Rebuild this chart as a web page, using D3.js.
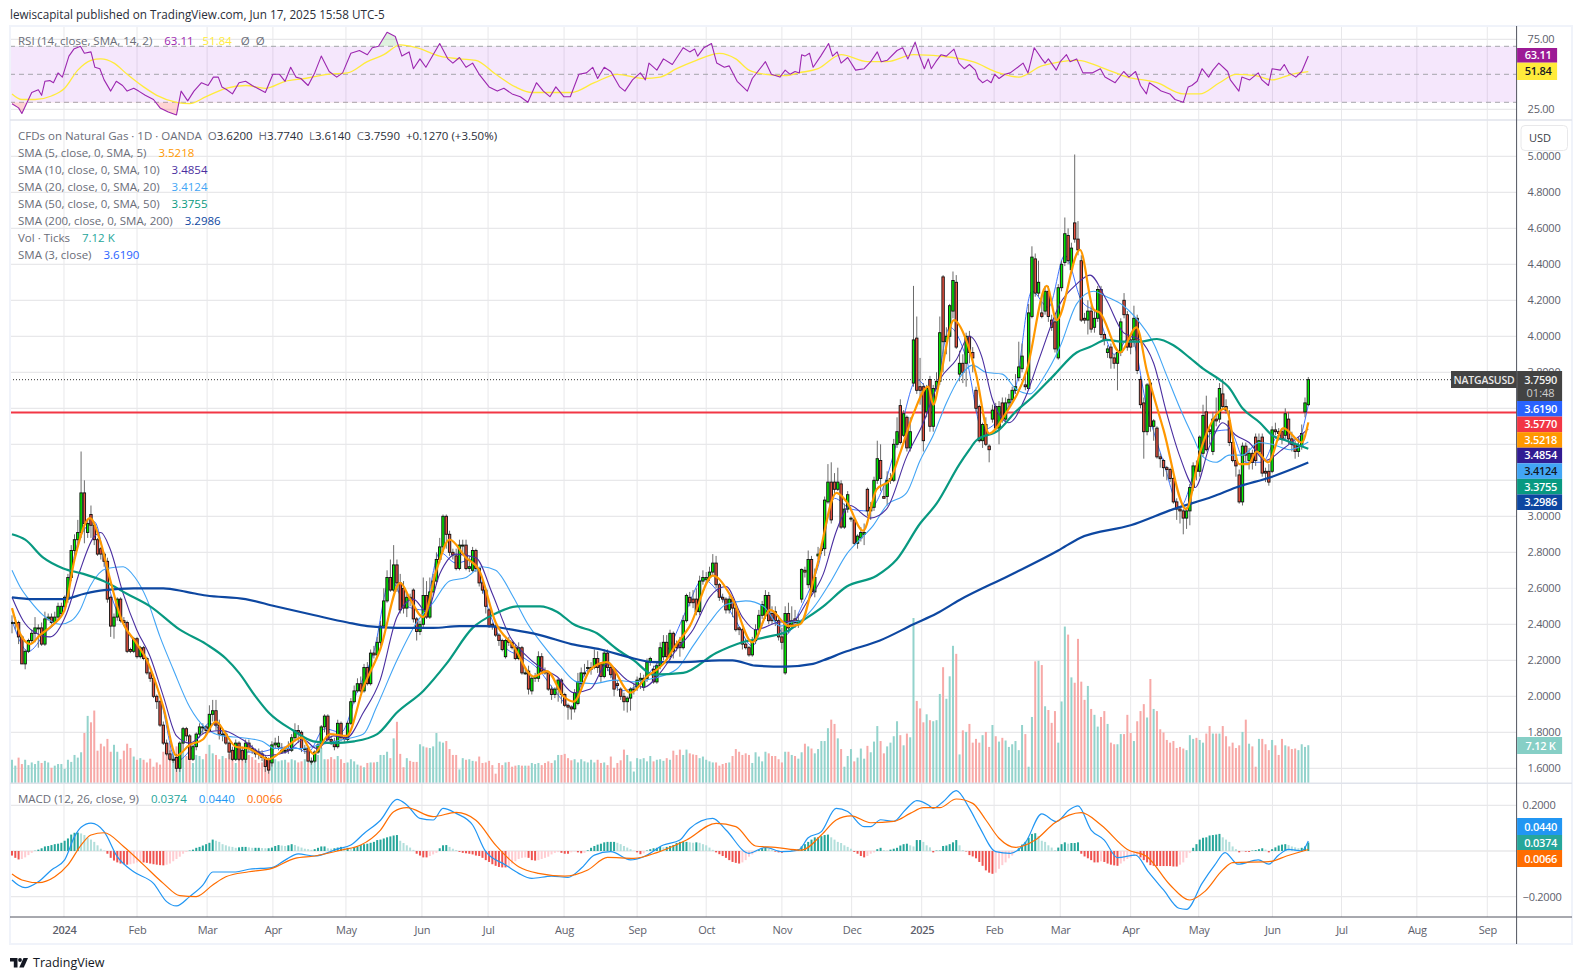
<!DOCTYPE html>
<html>
  <head>
    <title>NATGASUSD</title>
    <meta charset="utf-8" />
    <script src="https://d3js.org/d3.v7.min.js"></script>
    <style>
      html, body { margin: 0; padding: 0; background: #fff; }
      svg { display: block; }
      text { font-family: "Open Sans", "DejaVu Sans", sans-serif; }
    </style>
  </head>
  <body>
    <script>
      // daily candles, one row of ten bars per line
      const opens = [
        2.41,2.41,2.41,2.33,2.18,2.25,2.31,2.35,2.38,2.38,
        2.29,2.43,2.44,2.41,2.44,2.46,2.50,2.54,2.66,2.81,
        2.87,2.91,3.13,2.91,3.01,2.95,2.87,2.82,2.79,2.75,
        2.55,2.39,2.44,2.54,2.42,2.41,2.26,2.25,2.32,2.22,
        2.27,2.21,2.13,2.10,2.00,1.97,1.84,1.74,1.68,1.65,
        1.66,1.60,1.74,1.82,1.78,1.65,1.72,1.79,1.83,1.83,
        1.81,1.90,1.92,1.84,1.79,1.79,1.74,1.70,1.65,1.74,
        1.70,1.65,1.74,1.71,1.70,1.69,1.68,1.66,1.65,1.63,
        1.73,1.72,1.69,1.70,1.71,1.70,1.77,1.81,1.80,1.71,
        1.71,1.64,1.64,1.69,1.73,1.83,1.89,1.76,1.75,1.72,
        1.85,1.77,1.76,1.85,1.97,2.03,2.07,2.03,2.16,2.07,
        2.24,2.23,2.30,2.39,2.53,2.66,2.59,2.73,2.63,2.60,
        2.49,2.55,2.59,2.43,2.36,2.40,2.56,2.44,2.58,2.64,
        2.76,2.83,3.00,2.90,2.80,2.78,2.71,2.84,2.84,2.71,
        2.70,2.81,2.71,2.63,2.59,2.48,2.40,2.39,2.34,2.31,
        2.22,2.31,2.30,2.27,2.21,2.27,2.13,2.14,2.03,2.10,
        2.10,2.22,2.14,2.13,2.04,2.01,2.04,2.09,2.01,1.95,
        1.94,1.93,1.96,2.07,2.13,2.16,2.15,2.16,2.21,2.18,
        2.11,2.24,2.16,2.15,2.07,2.04,2.00,1.97,1.99,2.04,
        2.05,2.09,2.05,2.10,2.19,2.15,2.08,2.17,2.22,2.30,
        2.22,2.35,2.29,2.30,2.27,2.42,2.55,2.54,2.54,2.47,
        2.64,2.65,2.66,2.69,2.74,2.62,2.55,2.54,2.48,2.54,
        2.49,2.38,2.37,2.29,2.27,2.23,2.31,2.37,2.45,2.45,
        2.56,2.46,2.47,2.42,2.33,2.13,2.46,2.40,2.43,2.40,
        2.54,2.70,2.62,2.76,2.58,2.78,2.81,2.82,3.08,3.19,
        3.19,3.15,3.18,2.94,3.04,2.99,2.98,2.85,2.88,2.90,
        3.15,3.03,3.05,3.20,3.31,3.11,3.11,3.20,3.20,3.40,
        3.615,3.45,3.55,3.38,3.74,3.99,3.72,3.72,3.58,3.76,
        3.50,3.71,3.75,4.33,3.97,4.00,4.14,4.30,3.79,3.85,
        3.85,4.00,3.91,3.70,3.61,3.42,3.51,3.39,3.54,3.61,
        3.49,3.63,3.54,3.63,3.65,3.70,3.77,3.82,3.73,3.71,
        4.11,4.43,4.24,4.13,4.14,4.25,4.09,4.08,3.88,4.27,
        4.41,4.56,4.37,4.63,4.54,4.42,4.10,4.09,4.14,4.05,
        4.10,4.26,4.01,3.91,3.94,3.88,3.85,3.91,4.20,4.12,
        3.98,3.98,4.10,3.76,3.63,3.47,3.74,3.50,3.49,3.33,
        3.31,3.27,3.26,3.21,3.08,3.04,3.03,2.99,3.03,3.16,
        3.28,3.25,3.35,3.58,3.48,3.36,3.54,3.54,3.68,3.61,
        3.53,3.41,3.31,3.23,3.08,3.39,3.31,3.35,3.44,3.36,
        3.44,3.25,3.25,3.25,3.48,3.47,3.47,3.45,3.54,3.43,
        3.40,3.36,3.39,3.58,3.62
      ];
      const closes = [
        2.41,2.41,2.33,2.18,2.25,2.31,2.35,2.38,2.38,2.29,
        2.43,2.44,2.41,2.44,2.50,2.50,2.55,2.66,2.81,2.87,
        2.91,3.13,2.96,2.96,2.95,2.87,2.79,2.79,2.75,2.54,
        2.39,2.44,2.54,2.42,2.41,2.25,2.25,2.32,2.22,2.27,
        2.21,2.13,2.10,2.00,1.97,1.84,1.74,1.68,1.65,1.65,
        1.60,1.74,1.82,1.78,1.65,1.72,1.79,1.83,1.83,1.81,
        1.90,1.92,1.84,1.79,1.79,1.74,1.69,1.65,1.74,1.65,
        1.65,1.74,1.71,1.70,1.68,1.68,1.66,1.61,1.59,1.73,
        1.74,1.74,1.70,1.70,1.70,1.77,1.81,1.80,1.71,1.71,
        1.64,1.64,1.69,1.73,1.83,1.89,1.76,1.75,1.72,1.85,
        1.77,1.76,1.85,1.97,2.03,2.07,2.03,2.16,2.07,2.24,
        2.23,2.30,2.39,2.53,2.66,2.59,2.73,2.63,2.48,2.49,
        2.55,2.54,2.43,2.36,2.40,2.56,2.44,2.58,2.64,2.76,
        2.83,3.00,2.90,2.80,2.785,2.71,2.84,2.84,2.71,2.72,
        2.81,2.71,2.63,2.59,2.50,2.39,2.39,2.34,2.31,2.26,
        2.31,2.30,2.27,2.21,2.27,2.13,2.13,2.04,2.10,2.11,
        2.22,2.14,2.13,2.04,2.01,2.04,2.09,2.01,1.95,1.94,
        1.93,2.02,2.08,2.13,2.13,2.16,2.16,2.21,2.16,2.11,
        2.24,2.16,2.12,2.04,2.06,2.00,1.97,1.99,2.04,2.04,
        2.09,2.10,2.10,2.19,2.21,2.08,2.17,2.27,2.30,2.22,
        2.35,2.25,2.27,2.27,2.42,2.56,2.52,2.52,2.47,2.64,
        2.66,2.66,2.69,2.74,2.62,2.55,2.54,2.48,2.54,2.49,
        2.37,2.37,2.29,2.27,2.23,2.31,2.37,2.45,2.51,2.56,
        2.42,2.42,2.42,2.33,2.30,2.46,2.38,2.42,2.41,2.42,
        2.705,2.69,2.76,2.58,2.66,2.79,2.82,3.09,3.19,2.98,
        3.15,3.19,2.94,3.04,3.12,2.99,2.85,2.89,2.91,2.91,
        3.03,3.05,3.20,3.32,3.21,3.10,3.20,3.21,3.40,3.47,
        3.41,3.57,3.38,3.47,3.98,3.70,3.70,3.42,3.71,3.50,
        3.71,3.75,4.02,3.97,4.00,4.17,4.31,3.94,3.85,3.80,
        4.00,3.91,3.88,3.60,3.42,3.51,3.40,3.37,3.59,3.49,
        3.61,3.54,3.63,3.65,3.70,3.72,3.83,3.89,3.72,4.13,
        4.44,4.24,4.30,4.11,4.25,4.11,4.05,3.93,4.27,4.40,
        4.57,4.42,4.49,4.54,4.48,4.09,4.09,4.14,4.04,4.10,
        4.26,4.01,3.98,3.93,3.88,3.85,3.91,4.08,4.12,3.94,
        3.94,4.10,3.81,3.62,3.47,3.73,3.50,3.53,3.33,3.32,
        3.27,3.26,3.21,3.08,3.04,3.03,2.99,3.03,3.16,3.28,
        3.25,3.44,3.56,3.37,3.47,3.54,3.53,3.71,3.61,3.59,
        3.41,3.31,3.28,3.08,3.39,3.34,3.35,3.30,3.31,3.42,
        3.24,3.24,3.19,3.48,3.47,3.46,3.43,3.57,3.43,3.40,
        3.36,3.39,3.46,3.63,3.759
      ];
      const highs = [
        2.45,2.44,2.42,2.34,2.26,2.32,2.37,2.44,2.40,2.41,
        2.47,2.46,2.46,2.47,2.52,2.52,2.56,2.68,2.84,2.90,
        2.98,3.36,3.20,2.98,3.06,2.96,2.88,2.83,2.80,2.77,
        2.56,2.46,2.55,2.55,2.44,2.42,2.27,2.33,2.33,2.28,
        2.28,2.22,2.14,2.11,2.01,1.98,1.86,1.76,1.70,1.67,
        1.68,1.75,1.83,1.83,1.79,1.73,1.80,1.85,1.85,1.84,
        1.95,1.98,1.98,1.87,1.81,1.81,1.75,1.72,1.76,1.75,
        1.72,1.76,1.76,1.73,1.71,1.71,1.70,1.67,1.66,1.75,
        1.77,1.78,1.74,1.72,1.75,1.79,1.85,1.84,1.81,1.73,
        1.72,1.66,1.70,1.75,1.84,1.90,1.90,1.78,1.77,1.87,
        1.86,1.78,1.86,1.99,2.06,2.10,2.11,2.18,2.19,2.26,
        2.28,2.33,2.42,2.60,2.70,2.76,2.84,2.76,2.68,2.64,
        2.57,2.57,2.60,2.44,2.42,2.66,2.64,2.66,2.68,2.80,
        2.88,3.01,3.01,2.92,2.82,2.82,2.87,2.87,2.87,2.78,
        2.83,2.82,2.72,2.64,2.60,2.49,2.41,2.40,2.35,2.32,
        2.32,2.33,2.31,2.29,2.30,2.28,2.16,2.17,2.12,2.13,
        2.25,2.24,2.16,2.14,2.06,2.05,2.10,2.10,2.02,1.96,
        1.95,2.04,2.13,2.16,2.18,2.20,2.19,2.26,2.25,2.19,
        2.26,2.26,2.18,2.16,2.09,2.05,2.02,2.00,2.05,2.07,
        2.11,2.13,2.12,2.21,2.22,2.17,2.19,2.30,2.34,2.34,
        2.37,2.36,2.31,2.33,2.45,2.57,2.58,2.59,2.60,2.67,
        2.70,2.69,2.72,2.79,2.78,2.63,2.57,2.55,2.56,2.55,
        2.50,2.39,2.38,2.32,2.28,2.33,2.40,2.48,2.53,2.59,
        2.58,2.50,2.50,2.45,2.38,2.50,2.52,2.50,2.48,2.46,
        2.71,2.72,2.81,2.78,2.71,2.83,2.85,3.11,3.29,3.30,
        3.24,3.27,3.20,3.07,3.14,3.00,2.99,2.90,2.94,2.96,
        3.16,3.08,3.22,3.42,3.40,3.18,3.25,3.24,3.43,3.55,
        3.65,3.59,3.56,3.55,4.28,4.11,3.88,3.74,3.73,3.78,
        3.73,3.80,4.11,4.34,4.05,4.18,4.36,4.34,3.92,3.90,
        4.02,4.03,3.94,3.72,3.62,3.52,3.55,3.40,3.62,3.63,
        3.64,3.66,3.66,3.68,3.72,3.79,3.97,3.96,3.78,4.18,
        4.50,4.46,4.42,4.22,4.28,4.28,4.12,4.12,4.29,4.42,
        4.66,4.60,4.52,5.01,4.64,4.45,4.13,4.20,4.17,4.14,
        4.28,4.28,4.02,3.95,3.96,3.90,3.93,4.10,4.24,4.14,
        4.00,4.17,4.12,3.78,3.66,3.74,3.76,3.54,3.50,3.35,
        3.32,3.28,3.27,3.22,3.10,3.05,3.04,3.05,3.18,3.30,
        3.31,3.45,3.62,3.67,3.49,3.58,3.66,3.74,3.76,3.65,
        3.59,3.42,3.33,3.26,3.41,3.41,3.38,3.37,3.46,3.46,
        3.46,3.27,3.29,3.50,3.52,3.49,3.49,3.60,3.58,3.47,
        3.42,3.44,3.51,3.66,3.774
      ];
      const lows = [
        2.35,2.37,2.29,2.18,2.15,2.24,2.29,2.30,2.27,2.28,
        2.28,2.42,2.40,2.40,2.43,2.44,2.47,2.52,2.64,2.78,
        2.83,2.88,2.85,2.88,2.88,2.84,2.78,2.76,2.72,2.52,
        2.33,2.32,2.42,2.41,2.39,2.24,2.24,2.24,2.21,2.21,
        2.20,2.12,2.08,1.99,1.93,1.83,1.73,1.67,1.64,1.63,
        1.58,1.58,1.70,1.75,1.65,1.64,1.70,1.77,1.79,1.78,
        1.80,1.86,1.81,1.76,1.75,1.73,1.65,1.64,1.64,1.64,
        1.64,1.63,1.69,1.68,1.66,1.65,1.64,1.58,1.57,1.61,
        1.71,1.70,1.68,1.68,1.68,1.69,1.75,1.74,1.69,1.68,
        1.63,1.62,1.63,1.68,1.71,1.80,1.75,1.73,1.70,1.71,
        1.75,1.74,1.75,1.84,1.96,2.02,2.02,2.02,2.06,2.06,
        2.21,2.22,2.28,2.38,2.52,2.58,2.58,2.58,2.46,2.46,
        2.44,2.50,2.41,2.31,2.34,2.38,2.43,2.43,2.56,2.62,
        2.74,2.80,2.82,2.78,2.76,2.70,2.70,2.79,2.70,2.69,
        2.69,2.69,2.61,2.57,2.46,2.38,2.37,2.33,2.28,2.25,
        2.21,2.28,2.26,2.20,2.20,2.12,2.12,2.01,2.01,2.08,
        2.08,2.13,2.12,2.03,1.98,1.99,1.97,1.96,1.94,1.87,
        1.87,1.91,1.95,2.05,2.11,2.13,2.12,2.15,2.13,2.08,
        2.10,2.14,2.10,2.00,2.03,1.98,1.92,1.91,1.92,2.01,
        2.03,2.04,2.03,2.08,2.17,2.07,2.07,2.15,2.20,2.21,
        2.20,2.21,2.25,2.22,2.26,2.41,2.50,2.49,2.45,2.45,
        2.62,2.62,2.64,2.67,2.60,2.53,2.52,2.46,2.46,2.44,
        2.36,2.34,2.26,2.26,2.22,2.22,2.29,2.36,2.43,2.43,
        2.40,2.40,2.39,2.31,2.26,2.12,2.35,2.38,2.38,2.38,
        2.52,2.66,2.60,2.56,2.55,2.76,2.79,2.78,3.07,2.96,
        3.12,3.14,2.93,2.93,3.02,2.97,2.84,2.82,2.86,2.84,
        3.00,2.98,3.03,3.18,3.14,3.10,3.06,3.18,3.19,3.38,
        3.40,3.44,3.36,3.36,3.72,3.68,3.62,3.36,3.55,3.47,
        3.47,3.70,3.73,3.80,3.90,3.86,4.10,3.93,3.75,3.74,
        3.72,3.85,3.80,3.58,3.41,3.38,3.39,3.30,3.52,3.48,
        3.40,3.52,3.53,3.60,3.63,3.68,3.75,3.80,3.70,3.70,
        4.10,4.22,4.22,4.10,4.12,4.08,4.03,3.91,3.87,4.25,
        4.39,4.40,4.35,4.52,4.45,4.08,4.07,4.01,4.02,4.02,
        4.08,3.99,3.95,3.88,3.82,3.82,3.70,3.89,4.10,3.92,
        3.90,3.94,3.79,3.60,3.32,3.45,3.47,3.42,3.32,3.27,
        3.22,3.20,3.19,3.07,2.98,2.96,2.90,2.93,2.95,3.14,
        3.20,3.22,3.33,3.36,3.40,3.34,3.50,3.52,3.60,3.57,
        3.39,3.30,3.22,3.07,3.06,3.30,3.26,3.26,3.28,3.34,
        3.22,3.19,3.17,3.24,3.45,3.42,3.40,3.43,3.40,3.36,
        3.32,3.33,3.37,3.55,3.614
      ];

      // tick volume, thousands
      const volumes = [
        4.4,3.3,4.8,3.6,4.4,3.4,3.9,3.6,4.2,3.8,
        4.2,3.9,2.9,3.3,3.6,3.6,2.7,4.4,4.0,5.3,
        4.8,5.8,9.4,12.6,11.4,13.6,6.1,7.4,6.9,8.3,
        5.9,7.2,5.9,4.5,6.1,7.4,6.6,5.0,4.4,4.7,
        4.4,3.9,4.6,3.1,3.9,3.5,5.9,6.2,7.6,5.9,
        6.9,5.0,5.9,5.1,5.8,3.8,5.3,5.1,4.5,5.5,
        7.2,5.6,5.3,4.5,5.1,4.7,5.5,5.0,3.8,4.6,
        5.6,4.4,5.3,4.9,4.4,3.8,3.9,4.4,3.1,3.8,
        4.5,4.1,4.3,4.4,3.9,4.5,4.3,3.9,4.1,4.5,
        3.8,4.1,5.6,5.3,6.6,4.5,4.5,4.9,4.5,5.1,
        4.5,3.8,3.9,4.5,4.1,3.5,3.3,3.0,3.8,3.9,
        3.9,4.0,5.3,5.3,5.9,4.7,8.4,11.5,5.5,3.0,
        4.7,4.2,4.0,4.0,7.3,6.9,6.7,6.6,6.9,9.4,
        7.8,7.6,7.9,6.4,5.3,5.3,2.6,4.7,4.4,4.5,
        4.2,4.1,5.0,3.8,3.9,4.2,3.4,1.8,3.8,3.4,
        3.9,4.0,3.1,3.3,3.4,3.3,3.3,3.3,3.8,3.6,
        3.8,3.4,3.8,4.1,3.8,4.3,5.3,5.3,5.5,4.7,
        4.3,4.5,3.9,4.5,4.1,3.9,4.4,3.9,4.4,3.8,
        3.9,3.4,5.0,2.9,3.8,4.3,6.3,5.3,4.1,2.2,
        4.7,4.5,4.7,4.1,5.1,4.1,4.4,4.5,4.2,4.7,
        4.4,6.1,5.3,6.3,5.3,6.3,5.6,5.4,5.3,4.7,
        5.0,4.4,4.1,3.9,3.9,3.3,3.6,3.8,3.9,5.1,
        6.4,5.9,5.3,5.6,5.3,3.8,5.8,5.0,4.1,5.9,
        5.6,5.1,5.1,4.5,3.9,5.9,5.9,5.3,5.1,4.6,
        5.8,7.4,6.9,6.5,5.6,6.4,7.9,7.9,10.3,11.9,
        11.1,8.4,6.4,3.1,5.1,6.4,4.1,4.8,6.5,4.6,
        7.0,5.8,7.8,10.7,7.9,5.6,6.9,7.6,8.8,11.6,
        9.0,7.1,9.3,8.6,30.9,15.4,14.0,11.4,12.9,11.8,
        11.6,11.8,16.7,21.7,15.8,20.0,25.7,24.2,5.4,9.9,
        9.6,11.1,7.6,8.3,7.6,9.0,9.6,6.8,10.9,8.8,
        7.8,8.5,8.0,6.8,7.3,7.9,6.2,10.9,9.2,3.1,
        12.4,22.8,22.9,22.1,14.4,13.7,11.3,13.5,7.6,15.3,
        29.3,27.8,19.8,18.8,27.0,19.0,15.6,18.2,13.9,12.8,
        10.6,12.4,13.5,11.1,7.6,7.3,7.3,9.2,9.2,12.8,
        9.4,7.9,11.6,13.5,14.8,12.3,19.5,13.9,13.5,10.1,
        9.5,8.1,7.6,7.9,6.6,6.8,6.5,6.2,9.0,8.3,
        8.5,8.1,7.6,9.3,10.7,9.3,9.3,9.3,10.7,8.8,
        6.9,7.6,6.6,7.1,9.6,11.9,7.4,6.9,3.1,8.3,
        8.3,7.3,6.2,8.1,7.1,5.3,8.3,7.1,6.9,6.4,
        6.5,6.2,7.3,6.8,7.12
      ];

      // moving averages, read at the listed bars
      const ma200Bars = [0,6.5,15.6,22,28,37,46,53,59,71,80,92,102,108,117,128,136,144,152,160.5,170,179,189,195,204,215,219,226,235,243.5,246.6,253.7,263.8,274,281,288,303,318,324.6,340,353,365,372,383,394];
      const ma200 = [2.55,2.54,2.54,2.57,2.59,2.60,2.60,2.58,2.56,2.54,2.50,2.45,2.41,2.39,2.38,2.38,2.39,2.39,2.37,2.34,2.29,2.26,2.21,2.19,2.19,2.20,2.20,2.17,2.165,2.18,2.20,2.25,2.31,2.40,2.46,2.535,2.67,2.81,2.88,2.95,3.04,3.11,3.16,3.22,3.2986];
      const ma50Bars = [0,4,9.5,15.6,21.7,27.8,34.9,42,51,59,65,69,74,78,85.5,91.6,97.7,104,111,117,125,132,140,147,153.5,160.5,165.6,170.7,177.8,184,189,195,204,214,222,229.5,235.5,239.5,246.6,253.7,262.8,268.9,276,281,288,291,293,300,305,310,316.5,323.6,327.6,332.7,337.8,342.8,348,353,358,362,367,369.7,374,379.3,383,387.4,394];
      const ma50 = [2.90,2.87,2.77,2.71,2.68,2.64,2.57,2.50,2.37,2.29,2.21,2.13,2.00,1.91,1.81,1.75,1.74,1.75,1.79,1.91,2.03,2.18,2.38,2.46,2.50,2.50,2.47,2.40,2.35,2.26,2.20,2.12,2.13,2.24,2.30,2.33,2.36,2.41,2.50,2.61,2.67,2.76,2.96,3.07,3.29,3.37,3.42,3.48,3.58,3.66,3.78,3.91,3.94,3.98,3.97,3.97,3.985,3.95,3.88,3.82,3.76,3.72,3.60,3.52,3.45,3.42,3.3755];
      const ma20Bars = [0,2.4,5.5,9.5,14.6,18,20.7,23.7,28.8,33.8,37.4,41,45,49,54,59,64,70,76,80,87.5,93.6,100.7,106.8,110.8,117,123,128,133,138,143,147,152.4,156.5,161.6,166.6,171.7,176.8,183,189,195,202,207,212,217,223,228.4,233.5,236.4,239.5,243.5,248.6,253.7,257.7,261.8,265.8,271.9,276,280,284,288,292,296,301,305,309.4,313.5,318.5,323.6,328.7,332.7,337.8,343,347,351,355,359,362,366,370,374,379,383,388.4,394];
      const ma20 = [2.70,2.61,2.53,2.45,2.40,2.42,2.48,2.61,2.71,2.72,2.66,2.54,2.33,2.15,1.94,1.82,1.78,1.77,1.75,1.71,1.71,1.73,1.76,1.79,1.94,2.20,2.41,2.52,2.64,2.66,2.72,2.70,2.55,2.41,2.28,2.17,2.08,2.07,2.09,2.08,2.10,2.15,2.28,2.41,2.51,2.53,2.50,2.39,2.41,2.42,2.49,2.63,2.79,2.87,2.95,3.06,3.13,3.31,3.45,3.63,3.77,3.84,3.80,3.79,3.71,3.68,3.77,3.94,4.18,4.25,4.22,4.17,4.07,3.96,3.78,3.60,3.44,3.33,3.30,3.34,3.34,3.41,3.40,3.37,3.4124];
      const ma10Bars = [0,3.4,6.5,11.6,16.6,20.7,24.7,27,29.8,33.8,37.9,42,46,50,54,59,64,70,77.4,83.5,88.5,92.6,97.7,101.7,106.8,111.9,117,122,126,130,135,141,146,151.4,155.5,160.6,165.6,170.7,175.8,180.8,187,192,197,202,207,212,217,222,226,232.5,237.6,241.5,246.6,250.6,254.7,260.8,265.8,271.9,277,282,287,291,294.7,298,303,308,312.5,318.5,323.6,327.6,332.7,337.8,342.8,347,351,355,359.6,364,368,372,376,381,386,394];
      const ma10 = [2.55,2.42,2.36,2.33,2.46,2.70,2.88,2.91,2.82,2.57,2.37,2.22,2.00,1.78,1.74,1.80,1.81,1.76,1.67,1.69,1.76,1.71,1.78,1.77,1.91,2.09,2.44,2.54,2.47,2.68,2.79,2.77,2.57,2.33,2.24,2.16,2.11,2.02,2.04,2.18,2.09,2.05,2.13,2.26,2.37,2.55,2.61,2.44,2.37,2.41,2.42,2.52,2.68,2.92,3.06,2.99,3.04,3.33,3.52,3.76,3.87,4.00,3.89,3.65,3.52,3.66,3.89,4.18,4.29,4.34,4.20,4.02,3.98,3.85,3.57,3.33,3.16,3.39,3.52,3.45,3.41,3.31,3.37,3.4854];
      const ma5Bars = [0,2.4,5.5,8.5,12.6,16,19,23.7,26.7,29.8,33,38,41,46,50,54,58,62,65,68,72,78,83.5,88,91.6,96.7,101.7,106.8,111.9,118,121,125,129,133,138,142,147,152.4,158.5,162.6,167.6,170.7,175.8,180.8,188,193,198,202,206,213,219,225,230.5,234.5,236,239.5,244.5,250.6,253.7,258.7,262.8,266.8,269.9,274,278.5,280,282,286.3,290,293,297,302,308.4,314.5,317.5,324.6,328.7,330.7,336.8,341.8,344.9,350,356.9,361,368.9,373,375.8,378.3,381.8,386.4,392,394];
      const ma5 = [2.49,2.35,2.29,2.34,2.40,2.48,2.76,2.99,2.87,2.65,2.44,2.29,2.20,1.94,1.67,1.73,1.76,1.86,1.79,1.72,1.71,1.65,1.72,1.77,1.68,1.79,1.78,2.05,2.26,2.63,2.54,2.44,2.70,2.87,2.77,2.70,2.41,2.28,2.11,2.14,2.00,1.97,2.15,2.19,2.02,2.11,2.18,2.29,2.39,2.67,2.54,2.30,2.48,2.41,2.39,2.40,2.71,3.13,3.08,2.92,3.15,3.20,3.35,3.57,3.72,3.62,3.76,4.09,3.98,3.79,3.46,3.57,3.81,4.28,4.09,4.48,4.15,4.13,3.91,4.05,3.81,3.48,3.04,3.35,3.60,3.29,3.29,3.36,3.30,3.49,3.41,3.5218];
      const ma3Bars = [0,5,10,15,20,25,30,35,40,45,50,55,60,65,70,75,80,85,90,95,100,105,110,115,120,125,130,135,140,145,150,155,160,165,170,175,180,185,190,195,200,205,210,215,220,225,230,235,240,245,250,255,260,265,270,275,280,285,290,295,300,305,310,315,320,325,330,335,340,345,350,355,360,365,370,375,380,385,390,394];
      const ma3 = [2.42,2.25,2.35,2.46,2.85,2.97,2.57,2.36,2.24,2.00,1.64,1.72,1.85,1.78,1.69,1.69,1.71,1.72,1.69,1.82,1.80,2.03,2.25,2.65,2.50,2.48,2.80,2.74,2.76,2.47,2.27,2.22,2.15,2.03,1.94,2.15,2.17,2.03,2.06,2.16,2.28,2.48,2.65,2.57,2.42,2.28,2.46,2.34,2.50,2.72,3.10,3.04,3.03,3.17,3.48,3.76,3.68,4.05,3.88,3.48,3.54,3.71,4.25,4.16,4.45,4.20,4.12,3.90,4.00,3.60,3.30,3.05,3.28,3.47,3.48,3.30,3.30,3.45,3.39,3.619];

      // RSI pane
      const rsiBars = [0,2,3,5,6,8,9,10,11.5,12.6,14,15.3,17.3,18.8,20.8,22,24,25.2,26.7,28,30,31.7,33.6,35,37,38.5,40.5,43,45,47.5,50,51.4,53.4,55.3,57.6,59.6,61.2,62.7,63.8,65.3,67,69,71,73,74.6,77,79.3,81.3,83,84.7,86.3,87.8,90,92,94,96.4,98.7,100.5,103,105.6,108,109.5,111.4,114,116.5,118.5,120.7,122,124,125.8,128,130,132.5,134,136,138,140,142,145,147.5,149.5,152,154.5,156.8,159.4,161.5,163.5,165.3,167.7,169.7,172.3,174.6,176.5,178,180,182,184.7,186.3,188.6,191,192.5,193.6,196,198,200.7,204,206,207.5,208.4,210.3,212.6,214.2,216.5,218,220.4,223.5,225,229,230.8,233.4,235,236.5,238,239.3,240,241,242.4,243.5,245.8,248.2,249.4,250.8,252,254,256.4,259,261,263,264.2,266,269,270.7,272.3,274.5,275.7,277.3,278.5,279.4,280.8,282.4,284,286.3,287.8,289.4,291,292.8,293.7,295,296.4,297.6,298.7,300,301.8,303.4,305.7,307.3,308.8,310.7,313,314,315,317.4,318.6,320.5,321.6,323.6,325.5,328.3,330.8,332.2,335.3,337.9,339.5,341.5,343,344.8,345.7,348.2,349.3,351.9,353.5,356,357.5,358.6,360.2,361.7,363.7,365,366.8,369.5,370.3,372.9,373.8,376.2,378.8,379.9,381.9,383,385.5,386.7,388.1,390.2,392,394];
      const rsi = [29,26,22,32,37,39,35,45,45.5,44,51,48,63,68,70,65,66,55,54,46,38,45,42,38,40,38,35,32,26,23,21,38,31,38,44,42,48,48,41,39,36,44,45,42,40,37,50,50,45,55,48,47,42,51,63,52,48,51,65,67,64,69,70,80,77,63,66,54,61,55,64,72,61,58,62,55,58,50,41,38,40,36,34,30,44,38,34,41,34,34,50,51,55,47,55,52,41,38,46,51,46,58,53,61,57,69,66,68,63,69,72,58,55,56,45,38,47,59,50,48,53,50,52,51,64,63,65,55,63,72,63,66,58,62,53,54,59,66,59,60,67,69,61,73,64,54,61,54,59,64,63,68,58,54,57,53,47,44,46,44,50,47,50,51,55,58,51,69,61,58,61,53,59,64,59,61,51,51,54,48,44,52,48,52,42,36,44,40,38,36,32,30,41,42,45,54,48,53,58,52,46,38,48,46,51,46,42,54,53,57,51,48,52,63.11];
      const rsiMaBars = [0,3,7,12,16,20,24,27,31,35,40,44,50,54,59,65,71,77,83,89,96,102,108,113,118,123,130,136,141,147,153,158,170,177,184,192,197,202,208,215,220,224,229,235,239,245,252,260,266,274,286,292,300,306,313,324,331,339,348,356,361,367,372,378,383,389,394];
      const rsiMa = [36,32,32,34.5,40,53,60,61,58,50,41,35,30,29,34,40,42,40,45,47,50,51,59,64,71,69,63,61,60,50,41,37,37,44,50,47,48,54,60,65,61,53,50,49,51,54,64,59,59,64,62,59,51,48,56,60,55,48,44,36,36,44,50,49,46,50,51.84];

      // MACD pane
      const macdBars = [0,2,4,8,12,16,19,21,24,28,32,37,43,47,50,54,58,61,68,72,79,83,87,92,99,103,107,112,117,120,124,128,131,135,140,144,150,154,158,164,169,173,177,182,188,192,198,203,206,213,217,224,229,234,239,242,246,250.5,254,259,261,264,268,271.5,275,278.5,280,283,287,291,294,299,303.4,308,313,317.4,321.3,324,328,332,336,341.5,345.4,350,354.7,357,361.7,365.6,368.7,372.6,378.8,382,385,388,392,394];
      const macd = [-0.127,-0.15,-0.161,-0.135,-0.083,-0.039,0.063,0.104,0.122,0.085,-0.025,-0.091,-0.142,-0.222,-0.241,-0.2,-0.15,-0.092,-0.092,-0.08,-0.073,-0.04,-0.013,-0.022,0.009,0.026,0.077,0.135,0.226,0.202,0.143,0.136,0.187,0.165,0.114,-0.003,-0.061,-0.098,-0.12,-0.11,-0.116,-0.076,-0.018,-0.003,-0.039,-0.025,0.026,0.048,0.099,0.143,0.092,-0.01,0.016,-0.003,0.004,0.058,0.085,0.187,0.173,0.107,0.107,0.137,0.13,0.18,0.221,0.202,0.187,0.216,0.265,0.187,0.107,-0.003,-0.01,0.037,0.163,0.129,0.18,0.198,0.092,0.048,-0.029,-0.018,-0.092,-0.171,-0.251,-0.256,-0.142,-0.061,-0.007,-0.058,-0.039,-0.058,-0.018,0.007,0,0.044];
      const signalBars = [0,3,8,13,17,21,24,28,34,40,46,51,56,61,65,72,79,86,92,100,106,112,116,120,128,135,141,147,154,160,168,175,181,189,196,205,214,220,226,232,240,246,250.5,255,261,268,273,277,282,287,292,296,300,305,311,317,325,331,339,345,352,358,362.5,368,371,382,387.4,394];
      const signal = [-0.101,-0.127,-0.139,-0.113,-0.061,0.026,0.07,0.08,0.019,-0.061,-0.142,-0.196,-0.2,-0.149,-0.113,-0.091,-0.076,-0.032,-0.022,0.004,0.026,0.092,0.172,0.19,0.151,0.169,0.135,0.026,-0.069,-0.098,-0.11,-0.083,-0.028,-0.032,-0.007,0.048,0.121,0.107,0.022,0.016,0.004,0.07,0.136,0.154,0.124,0.13,0.165,0.19,0.19,0.228,0.209,0.136,0.056,0.016,0.048,0.124,0.168,0.114,0.007,-0.025,-0.149,-0.215,-0.178,-0.083,-0.051,-0.047,-0.022,0.0066];
      const histogram = [
        -.02,-.03,-.037,-.035,-.028,-.018,-.008,.001,.006,.012,
        .02,.022,.026,.03,.032,.036,.045,.055,.072,.08,
        .081,.077,.07,.058,.05,.04,.025,.01,.002,-.012,
        -.03,-.042,-.05,-.055,-.058,-.06,-.058,-.055,-.05,-.048,
        -.05,-.052,-.055,-.058,-.06,-.062,-.063,-.06,-.055,-.045,
        -.035,-.025,-.012,-.004,.002,.006,.014,.018,.024,.03,
        .036,.05,.045,.04,.03,.025,.02,.018,.014,.016,
        .018,.018,.016,.014,.014,.014,.013,.012,.012,.015,
        .022,.026,.024,.022,.025,.03,.026,.02,.015,.01,
        .008,.005,.008,.014,.02,.02,.012,.01,.012,.015,
        .018,.014,.014,.012,.016,.02,.026,.03,.032,.036,
        .04,.048,.05,.055,.06,.064,.068,.07,.045,.035,
        .025,.015,.005,-.012,-.02,-.028,-.028,-.022,-.015,-.008,
        .012,.025,.026,.018,.01,.004,-.004,-.008,-.01,-.012,
        -.015,-.02,-.022,-.03,-.04,-.048,-.058,-.065,-.07,-.072,
        -.072,-.07,-.055,-.045,-.035,-.03,-.028,-.03,-.04,-.042,
        -.04,-.035,-.03,-.025,-.015,-.008,-.005,-.008,-.012,-.012,
        -.006,-.002,-.006,-.01,-.008,.003,.014,.022,.028,.032,
        .038,.04,.04,.04,.036,.03,.022,.015,.008,.001,
        -.006,-.014,-.01,.002,.008,.012,.014,.018,.016,.018,
        .022,.026,.035,.04,.04,.04,.038,.036,.038,.036,
        .03,.025,.015,.005,-.006,-.014,-.022,-.03,-.04,-.048,
        -.052,-.055,-.05,-.04,-.025,-.015,-.006,.004,.012,.014,
        .01,.004,-.003,-.006,-.008,-.003,-.002,.002,.004,.008,
        .02,.03,.04,.05,.06,.06,.065,.07,.072,.06,
        .05,.04,.035,.025,.018,.01,-.004,-.012,-.022,-.028,
        -.022,-.012,-.006,.008,.014,.004,.002,.006,.01,.014,
        .024,.03,.032,.025,.02,.048,.048,.04,.025,.016,
        -.006,.002,.002,.022,.024,.03,.038,.048,.025,.004,
        -.002,-.018,-.024,-.032,-.048,-.065,-.085,-.095,-.1,-.095,
        -.078,-.062,-.05,-.032,-.02,-.004,.012,.028,.04,.058,
        .075,.078,.065,.045,.04,.025,.015,.004,.015,.03,
        .038,.032,.035,.035,.038,-.012,-.024,-.032,-.04,-.05,
        -.05,-.045,-.048,-.055,-.06,-.063,-.065,-.055,-.045,-.035,
        -.03,-.022,-.02,-.028,-.04,-.05,-.062,-.065,-.066,-.066,
        -.066,-.066,-.066,-.068,-.068,-.06,-.05,-.03,-.008,.014,
        .03,.05,.058,.06,.068,.07,.072,.075,.06,.05,
        .04,.02,.008,-.006,-.002,-.003,-.004,.002,.004,.008,
        .012,.006,-.006,.008,.016,.024,.028,.03,.026,.02,
        .016,.012,.014,.02,.0374
      ];

      // axis ticks and labels
      const priceTicks = [5, 4.8, 4.6, 4.4, 4.2, 4, 3.8, 3.6, 3.4, 3.2, 3, 2.8, 2.6, 2.4, 2.2, 2, 1.8, 1.6];
      // the tags on the right hide the 3.6, 3.4 and 3.2 labels
      const priceLabels = [5, 4.8, 4.6, 4.4, 4.2, 4, 3.8, 3, 2.8, 2.6, 2.4, 2.2, 2, 1.8, 1.6];
      const rsiTicks = [75, 25];
      const rsiBands = [70, 50, 30];
      const macdTicks = [0.2, -0.2];
      const macdGrid = [0.2, 0, -0.2];
      const monthBars = [15.8, 38, 59.3, 79.3, 101.5, 124.6, 144.7, 167.8, 190, 211, 234, 255.2, 276.5, 298.5, 318.6, 340, 360.7, 383.1, 404.1, 427, 448.4];
      const monthLabels = ["2024", "Feb", "Mar", "Apr", "May", "Jun", "Jul", "Aug", "Sep", "Oct", "Nov", "Dec", "2025", "Feb", "Mar", "Apr", "May", "Jun", "Jul", "Aug", "Sep"];
      const supportLevel = 3.577;
      const lastClose = 3.759;

      const W = 1582, H = 980;
      const paneLeft = 10, axisX = 1516.6, paneRight = 1572;
      const paneTop = 26, rsiBottom = 120, priceBottom = 783.3, macdBottom = 917, paneBottom = 944;

      const x = d3.scaleLinear().domain([0, 394]).range([12, 1308.3]);
      const y = d3.scaleLinear().domain([1.6, 5]).range([768.3, 156.3]);
      const yVol = d3.scaleLinear().domain([0, 30.9]).range([priceBottom, 618]);
      const yRsi = d3.scaleLinear().domain([25, 75]).range([109.3, 39.3]);
      const yMacd = d3.scaleLinear().domain([-0.2, 0.2]).range([896.6, 805.4]);

      const svg = d3.select("body").append("svg").attr("width", W).attr("height", H);

      const defs = svg.append("defs");
      defs.append("clipPath").attr("id", "above70").append("rect")
        .attr("x", paneLeft).attr("width", axisX - paneLeft).attr("y", paneTop).attr("height", yRsi(70) - paneTop);
      defs.append("clipPath").attr("id", "below30").append("rect")
        .attr("x", paneLeft).attr("width", axisX - paneLeft).attr("y", yRsi(30)).attr("height", rsiBottom - yRsi(30));

      // grid first, everything else goes on top
      const grid = svg.append("g").attr("stroke", "#e8e8ea");
      grid.selectAll("line.v").data(monthBars).enter().append("line")
        .attr("x1", (d) => x(d)).attr("x2", (d) => x(d))
        .attr("y1", paneTop).attr("y2", macdBottom);
      grid.selectAll("line.p").data(priceTicks).enter().append("line")
        .attr("x1", paneLeft).attr("x2", axisX)
        .attr("y1", (d) => y(d)).attr("y2", (d) => y(d)).attr("stroke-width", 1.3);
      grid.selectAll("line.r").data(rsiTicks).enter().append("line")
        .attr("x1", paneLeft).attr("x2", axisX)
        .attr("y1", (d) => yRsi(d)).attr("y2", (d) => yRsi(d)).attr("stroke-width", 1.3);
      grid.selectAll("line.m").data(macdGrid).enter().append("line")
        .attr("x1", paneLeft).attr("x2", axisX)
        .attr("y1", (d) => yMacd(d)).attr("y2", (d) => yMacd(d)).attr("stroke-width", 1.3);

      // RSI pane
      svg.append("rect").attr("x", paneLeft).attr("width", axisX - paneLeft)
        .attr("y", yRsi(70)).attr("height", yRsi(30) - yRsi(70))
        .attr("fill", "#a020e0").attr("fill-opacity", 0.11);
      svg.selectAll("line.band").data(rsiBands).enter().append("line")
        .attr("x1", paneLeft).attr("x2", axisX)
        .attr("y1", (d) => yRsi(d)).attr("y2", (d) => yRsi(d))
        .attr("stroke", "#a6a6ac").attr("stroke-dasharray", "5 4");

      const rsiPoints = rsi.map((v, i) => [rsiBars[i], v]);
      svg.append("path")
        .attr("d", d3.area().x((d) => x(d[0])).y0(yRsi(70)).y1((d) => yRsi(d[1]))(rsiPoints))
        .attr("clip-path", "url(#above70)").attr("fill", "#4caf50").attr("fill-opacity", 0.18);
      svg.append("path")
        .attr("d", d3.area().x((d) => x(d[0])).y0(yRsi(30)).y1((d) => yRsi(d[1]))(rsiPoints))
        .attr("clip-path", "url(#below30)").attr("fill", "#ff5252").attr("fill-opacity", 0.25);

      const drawLine = (bars, values, scale, color, width, curve) =>
        svg.append("path")
          .attr("d", d3.line().x((d, i) => x(bars[i])).y((d) => scale(d)).curve(curve)(values))
          .attr("fill", "none").attr("stroke", color).attr("stroke-width", width)
          .attr("stroke-linejoin", "round");

      drawLine(rsiMaBars, rsiMa, yRsi, "#ffeb3b", 1.3, d3.curveMonotoneX);
      drawLine(rsiBars, rsi, yRsi, "#9c27b0", 1.1, d3.curveLinear);

      // volume
      svg.append("g").selectAll("rect").data(volumes).enter().append("rect")
        .attr("x", (d, i) => x(i) - 1).attr("width", 2)
        .attr("y", (d) => yVol(d)).attr("height", (d) => priceBottom - yVol(d))
        .attr("fill", (d, i) => (closes[i] >= opens[i] ? "#93d3cc" : "#f7a9a7"));

      svg.append("line").attr("x1", paneLeft).attr("x2", axisX)
        .attr("y1", y(lastClose)).attr("y2", y(lastClose))
        .attr("stroke", "#333").attr("stroke-dasharray", "1 2");
      svg.append("line").attr("x1", paneLeft).attr("x2", axisX)
        .attr("y1", y(supportLevel)).attr("y2", y(supportLevel))
        .attr("stroke", "#f23645").attr("stroke-width", 2);

      // the fast blue average hugs the closes, so it sits under the candles
      drawLine(ma3Bars, ma3, y, "#2962ff", 0.9, d3.curveMonotoneX);

      // candles
      const candles = svg.append("g").selectAll("g").data(closes).enter().append("g");
      candles.append("line")
        .attr("x1", (d, i) => x(i)).attr("x2", (d, i) => x(i))
        .attr("y1", (d, i) => y(highs[i])).attr("y2", (d, i) => y(lows[i]))
        .attr("stroke", "#6b6b6b");
      candles.append("rect")
        .attr("x", (d, i) => x(i) - 1.2).attr("width", 2.4)
        .attr("y", (d, i) => y(Math.max(opens[i], d)))
        .attr("height", (d, i) => Math.max(1, Math.abs(y(opens[i]) - y(d))))
        .attr("fill", (d, i) => (d >= opens[i] ? "#00f000" : "#e4503f"))
        .attr("stroke", "#111").attr("stroke-width", 0.9);

      // moving averages
      drawLine(ma20Bars, ma20, y, "#42a5f5", 1.1, d3.curveMonotoneX);
      drawLine(ma10Bars, ma10, y, "#4a2ea0", 1.1, d3.curveMonotoneX);
      drawLine(ma50Bars, ma50, y, "#089981", 2.2, d3.curveMonotoneX);
      drawLine(ma200Bars, ma200, y, "#0d47a1", 2.2, d3.curveMonotoneX);
      drawLine(ma5Bars, ma5, y, "#ff9800", 2.2, d3.curveMonotoneX);

      // MACD histogram colour follows the change from the previous bar
      svg.append("g").selectAll("rect").data(histogram).enter().append("rect")
        .attr("x", (d, i) => x(i) - 1).attr("width", 2)
        .attr("y", (d) => Math.min(yMacd(d), yMacd(0)))
        .attr("height", (d) => Math.abs(yMacd(d) - yMacd(0)))
        .attr("fill", (d, i) => {
          const prev = i ? histogram[i - 1] : d;
          if (d >= 0) return d >= prev ? "#26a69a" : "#b2dfdb";
          return d <= prev ? "#ef5350" : "#ffcdd2";
        });
      drawLine(macdBars, macd, yMacd, "#2196f3", 1.2, d3.curveMonotoneX);
      drawLine(signalBars, signal, yMacd, "#ff6d00", 1.2, d3.curveMonotoneX);

      // frame and pane separators
      const frame = svg.append("g");
      frame.append("rect").attr("x", paneLeft).attr("y", paneTop)
        .attr("width", paneRight - paneLeft).attr("height", paneBottom - paneTop)
        .attr("fill", "none").attr("stroke", "#f0f3fa").attr("stroke-width", 2);
      frame.append("line").attr("x1", paneLeft).attr("x2", paneRight).attr("y1", rsiBottom).attr("y2", rsiBottom)
        .attr("stroke", "#e0e3eb").attr("stroke-width", 1.5);
      frame.append("line").attr("x1", paneLeft).attr("x2", paneRight).attr("y1", priceBottom).attr("y2", priceBottom)
        .attr("stroke", "#e0e3eb").attr("stroke-width", 1.5);
      frame.append("line").attr("x1", paneLeft).attr("x2", paneRight).attr("y1", macdBottom).attr("y2", macdBottom)
        .attr("stroke", "#50535e");
      frame.append("line").attr("x1", axisX).attr("x2", axisX).attr("y1", paneTop).attr("y2", paneBottom)
        .attr("stroke", "#50535e");

      // axes
      const styleAxis = (g) => {
        g.select(".domain").remove();
        g.selectAll("text").attr("fill", "#5d606b")
          .style("font-size", "11px")
          .style("letter-spacing", "-0.25px")
          .style("font-family", '"Open Sans", sans-serif');
      };
      svg.append("g").attr("transform", `translate(${axisX + 8},0)`)
        .call(d3.axisRight(y).tickValues(priceLabels).tickSize(0).tickFormat(d3.format(".4f")))
        .call(styleAxis);
      svg.append("g").attr("transform", `translate(${axisX + 8},0)`)
        .call(d3.axisRight(yRsi).tickValues(rsiTicks).tickSize(0).tickFormat(d3.format(".2f")))
        .call(styleAxis);
      svg.append("g").attr("transform", `translate(${axisX + 3},0)`)
        .call(d3.axisRight(yMacd).tickValues(macdTicks).tickSize(0).tickFormat((d) => d3.format(".4f")(d).replace("-", "−")))
        .call(styleAxis);
      svg.append("g").attr("transform", `translate(0,${macdBottom + 6})`)
        .call(d3.axisBottom(x).tickValues(monthBars).tickSize(0).tickFormat((d, i) => monthLabels[i]))
        .call(styleAxis)
        .call((g) => g.selectAll("text").filter((d, i) => i === 0 || i === 12).style("font-weight", 600));

      // price tags on the right axis
      const tag = (yTop, h, fill, label, color, w = 45) => {
        svg.append("rect").attr("x", axisX + 0.5).attr("y", yTop).attr("width", w).attr("height", h)
          .attr("fill", fill);
        svg.append("text").attr("x", axisX + 0.5 + w / 2 + 1).attr("y", yTop + h / 2 + 4)
          .attr("text-anchor", "middle").attr("font-size", "11px").attr("font-weight", 600)
          .attr("letter-spacing", "-0.3px").attr("fill", color).text(label);
      };
      const tagLabels = ["3.6190", "3.5770", "3.5218", "3.4854", "3.4124", "3.3755", "3.2986"];
      const tagFills = ["#2962ff", "#f23645", "#ff9800", "#311b92", "#42a5f5", "#089981", "#0d47a1"];
      svg.append("rect").attr("x", 1451).attr("y", 371).attr("width", 65.6).attr("height", 17)
        .attr("fill", "#434343");
      svg.append("text").attr("x", 1484).attr("y", 383.5).attr("text-anchor", "middle")
        .attr("font-size", "10.5px").attr("font-weight", 600).attr("letter-spacing", "-0.2px")
        .attr("fill", "#e8e8e8").text("NATGASUSD");
      svg.append("rect").attr("x", axisX + 0.5).attr("y", 371).attr("width", 45).attr("height", 30)
        .attr("fill", "#434343");
      svg.append("text").attr("x", axisX + 24).attr("y", 383.5).attr("text-anchor", "middle")
        .attr("font-size", "11px").attr("font-weight", 600).attr("letter-spacing", "-0.3px")
        .attr("fill", "#f0f0f0").text("3.7590");
      svg.append("text").attr("x", axisX + 24).attr("y", 396.5).attr("text-anchor", "middle")
        .attr("font-size", "11px").attr("fill", "#cfcfcf").text("01:48");
      tagLabels.forEach((label, i) =>
        tag(401 + i * 15.57, 15.57, tagFills[i], label, i === 4 ? "#131722" : "#fff")
      );
      tag(737, 17, "#86cfc6", "7.12 K", "#fff");
      tag(48, 14.7, "#9c1a96", "63.11", "#fff", 40);
      tag(62.7, 17.3, "#ffeb3b", "51.84", "#131722", 40);
      tag(818, 17, "#2196f3", "0.0440", "#fff");
      tag(835, 15, "#26a69a", "0.0374", "#fff");
      tag(850, 17, "#ff6d00", "0.0066", "#fff");

      svg.append("rect").attr("x", 1521).attr("y", 125.5).attr("width", 46.5).attr("height", 25)
        .attr("rx", 4).attr("fill", "#fff").attr("stroke", "#e8e8ea");
      svg.append("text").attr("x", 1540).attr("y", 142).attr("text-anchor", "middle")
        .attr("font-size", "11px").attr("fill", "#3a3d46").text("USD");

      // legends
      const legendGrey = "#6a6d78";
      const legendLine = (yPos, parts) => {
        const t = svg.append("text").attr("x", 18).attr("y", yPos).attr("font-size", "11.5px")
          .style("white-space", "pre");
        parts.forEach((p) => t.append("tspan").attr("fill", p[1]).text(p[0]));
      };
      legendLine(45, [["RSI (14, close, SMA, 14, 2)    ", legendGrey], ["63.11   ", "#9c27b0"], ["51.84   ", "#ffeb3b"], ["Ø  Ø", legendGrey]]);
      legendLine(140, [["CFDs on Natural Gas · 1D · OANDA  ", legendGrey], ["O", legendGrey], ["3.6200  ", "#2a2e39"], ["H", legendGrey], ["3.7740  ", "#2a2e39"], ["L", legendGrey], ["3.6140  ", "#2a2e39"], ["C", legendGrey], ["3.7590  ", "#2a2e39"], ["+0.1270 (+3.50%)", "#2a2e39"]]);
      legendLine(157, [["SMA (5, close, 0, SMA, 5)    ", legendGrey], ["3.5218", "#ff9800"]]);
      legendLine(174, [["SMA (10, close, 0, SMA, 10)    ", legendGrey], ["3.4854", "#4a2ea0"]]);
      legendLine(191, [["SMA (20, close, 0, SMA, 20)    ", legendGrey], ["3.4124", "#42a5f5"]]);
      legendLine(208, [["SMA (50, close, 0, SMA, 50)    ", legendGrey], ["3.3755", "#089981"]]);
      legendLine(225, [["SMA (200, close, 0, SMA, 200)    ", legendGrey], ["3.2986", "#0d47a1"]]);
      legendLine(242, [["Vol · Ticks    ", legendGrey], ["7.12 K", "#26a69a"]]);
      legendLine(259, [["SMA (3, close)    ", legendGrey], ["3.6190", "#2962ff"]]);
      legendLine(803, [["MACD (12, 26, close, 9)    ", legendGrey], ["0.0374    ", "#26a69a"], ["0.0440    ", "#2196f3"], ["0.0066", "#ff6d00"]]);

      svg.append("text").attr("x", 10).attr("y", 19).attr("font-size", "11.7px").attr("fill", "#2a2e39")
        .text("lewiscapital published on TradingView.com, Jun 17, 2025 15:58 UTC-5");

      // TradingView mark
      const logo = svg.append("g").attr("transform", "translate(10,958)").attr("fill", "#131722");
      logo.append("path").attr("d", "M0 0H7.5V9.5H3.8V3.6H0Z");
      logo.append("circle").attr("cx", 10).attr("cy", 2).attr("r", 1.9);
      logo.append("path").attr("d", "M13.5 0H18L13.8 9.5H9.3Z");
      svg.append("text").attr("x", 33).attr("y", 967).attr("font-size", "12.5px").attr("fill", "#131722")
        .text("TradingView");
    </script>
  </body>
</html>
